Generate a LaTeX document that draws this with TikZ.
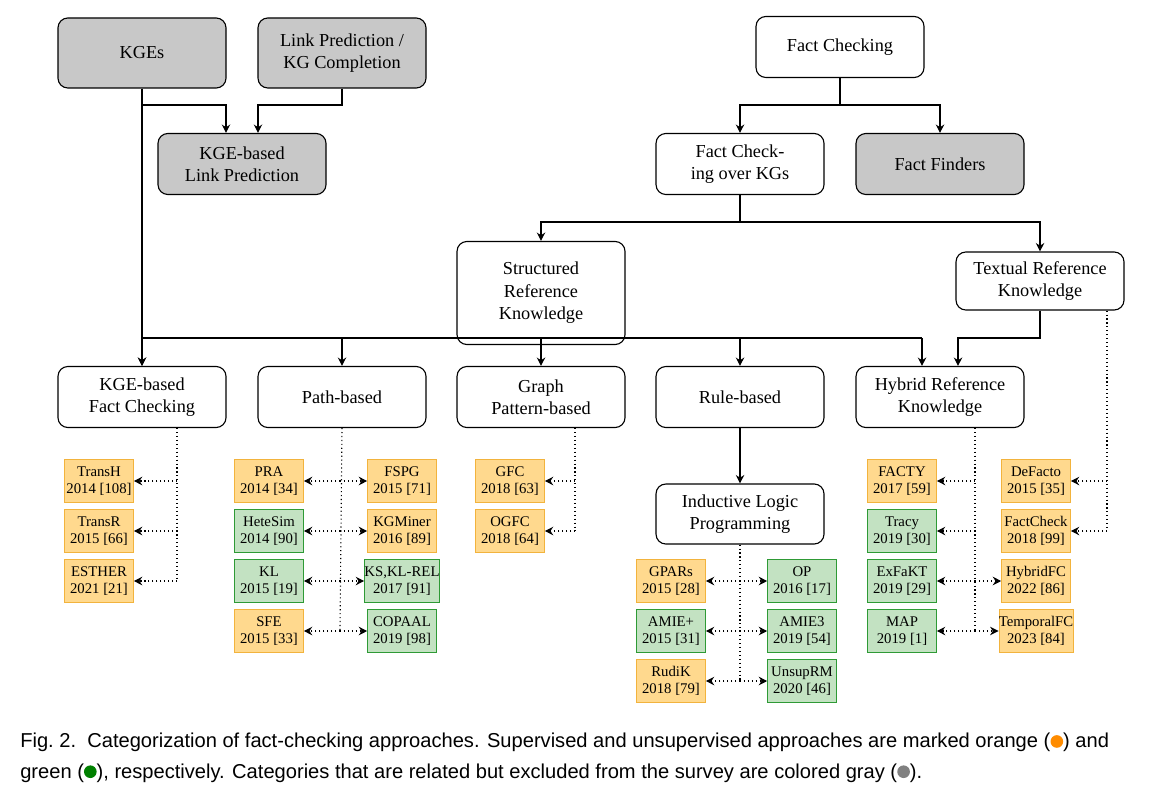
\documentclass[tikz,border=0pt]{standalone}
\usepackage{fontspec}
\setmainfont{Liberation Serif}
\newfontfamily\capfont{Liberation Sans}
\usetikzlibrary{positioning,calc,arrows.meta}
\definecolor{supfill}{HTML}{FFD98E}
\definecolor{supline}{HTML}{F2B33D}
\definecolor{unsfill}{HTML}{C3E2C2}
\definecolor{unsline}{HTML}{2E9A35}
\definecolor{grayfill}{HTML}{C8C8C8}
\tikzset{
  cat/.style={draw,rounded corners=7pt,thick,minimum width=168*0.025cm,minimum height=61*0.025cm,
    align=center,font=\fontsize{13}{16}\selectfont,inner sep=2pt},
  excl/.style={cat,fill=grayfill},
  sup/.style={draw=supline,fill=supfill,minimum width=69*0.025cm,minimum height=43*0.025cm,
    align=center,font=\fontsize{10.5}{12.5}\selectfont,inner sep=0pt},
  uns/.style={sup,draw=unsline,fill=unsfill},
  arr/.style={thick,-{Stealth[length=6pt,width=6pt]}},
  dotarr/.style={thick,dotted,-{Stealth[length=6pt,width=6pt]}},
  spine/.style={thick,dotted}
}
\begin{document}
\begin{tikzpicture}[x=0.025cm,y=-0.025cm]
\useasboundingbox (0,0) rectangle (1174,800);
% top row
\node[excl] (kges) at (142,53) [minimum height=70*0.025cm] {KGEs};
\node[excl] (lp) at (342,53) [minimum height=70*0.025cm] {Link Prediction /\\KG Completion};
\node[excl] (kgelp) at (242,164) {KGE-based\\Link Prediction};
\node[cat] (fc) at (840,47) {Fact Checking};
\node[cat] (fckg) at (740,164) {Fact Check-\\ing over KGs};
\node[excl] (ff) at (940,164) {Fact Finders};
\node[cat] (srk) at (541,293) [minimum height=103*0.025cm] {Structured\\Reference\\Knowledge};
\node[cat] (trk) at (1040,281) [minimum height=58*0.025cm] {Textual Reference\\Knowledge};
% categories
\node[cat] (kgefc) at (142,397) {KGE-based\\Fact Checking};
\node[cat] (path) at (342,397) {Path-based};
\node[cat] (graph) at (541,397) {Graph\\Pattern-based};
\node[cat] (rule) at (740,397) {Rule-based};
\node[cat] (hybrid) at (940,397) {Hybrid Reference\\Knowledge};
\node[cat] (ilp) at (740,514) [minimum height=60*0.025cm] {Inductive Logic\\Programming};
% tree
\draw[arr] (kges.south) |- (226,105) -- ($(kgelp.north)+(-16,0)$);
\draw[arr] (lp.south) |- (258,105) -- ($(kgelp.north)+(16,0)$);
\draw[arr] (kges.south) -- (kgefc.north);
\draw[arr] (fc.south) |- (740,105) -- (fckg.north);
\draw[arr] (fc.south) |- (940,105) -- (ff.north);
\draw[arr] (fckg.south) |- (541,222) -- (srk.north);
\draw[arr] (fckg.south) |- (1040,222) -- (trk.north);
\draw[thick] (142,338) -- (922,338);
\draw[thick] (srk.south) -- (541,338);
\foreach \n in {kgefc,path,graph,rule}
  \draw[arr] (\n.north |- 0,338) -- (\n.north);
\draw[arr] (922,338) -- ($(hybrid.north)+(-18,0)$);
\draw[arr] (trk.south) |- (958,338) -- ($(hybrid.north)+(18,0)$);
\draw[arr] (rule.south) -- (ilp.north);
% approaches
\node[sup] (transh) at (99,481) {TransH\\2014 [108]};
\node[sup] (transr) at (99,531) {TransR\\2015 [66]};
\node[sup] (esther) at (99,581) {ESTHER\\2021 [21]};
\node[sup] (pra) at (269,481) {PRA\\2014 [34]};
\node[uns] (hetesim) at (269,531) {HeteSim\\2014 [90]};
\node[uns] (kl) at (269,581) {KL\\2015 [19]};
\node[sup] (sfe) at (269,631) {SFE\\2015 [33]};
\node[sup] (fspg) at (402,481) {FSPG\\2015 [71]};
\node[sup] (kgminer) at (402,531) {KGMiner\\2016 [89]};
\node[uns] (ksklrel) at (402,581) {KS,KL-REL\\2017 [91]};
\node[uns] (copaal) at (402,631) {COPAAL\\2019 [98]};
\node[sup] (gfc) at (510,481) {GFC\\2018 [63]};
\node[sup] (ogfc) at (510,531) {OGFC\\2018 [64]};
\node[sup] (gpars) at (671,581) {GPARs\\2015 [28]};
\node[uns] (amieplus) at (671,631) {AMIE+\\2015 [31]};
\node[sup] (rudik) at (671,681) {RudiK\\2018 [79]};
\node[uns] (op) at (802,581) {OP\\2016 [17]};
\node[uns] (amie3) at (802,631) {AMIE3\\2019 [54]};
\node[uns] (unsuprm) at (802,681) {UnsupRM\\2020 [46]};
\node[sup] (facty) at (902,481) {FACTY\\2017 [59]};
\node[uns] (tracy) at (902,531) {Tracy\\2019 [30]};
\node[uns] (exfakt) at (902,581) {ExFaKT\\2019 [29]};
\node[uns] (map) at (902,631) {MAP\\2019 [1]};
\node[sup] (defacto) at (1036,481) {DeFacto\\2015 [35]};
\node[sup] (factcheck) at (1036,531) {FactCheck\\2018 [99]};
\node[sup] (hybridfc) at (1036,581) {HybridFC\\2022 [86]};
\node[sup] (temporalfc) at (1036,631) {TemporalFC\\2023 [84]};
% dotted spines
\draw[spine] (kgefc.south -| 177,0) -- (177,581);
\foreach \n in {transh,transr,esther} \draw[dotarr] (177,0 |- \n.east) -- (\n.east);
\draw[spine] (path.south) -- (340,631);
\foreach \n in {pra,hetesim,kl,sfe} \draw[dotarr] (340,0 |- \n.east) -- (\n.east);
\foreach \n in {fspg,kgminer,ksklrel,copaal} \draw[dotarr] (340,0 |- \n.west) -- (\n.west);
\draw[spine] (graph.south -| 575,0) -- (575,531);
\foreach \n in {gfc,ogfc} \draw[dotarr] (575,0 |- \n.east) -- (\n.east);
\draw[spine] (ilp.south) -- (740,681);
\foreach \n in {gpars,amieplus,rudik} \draw[dotarr] (740,0 |- \n.east) -- (\n.east);
\foreach \n in {op,amie3,unsuprm} \draw[dotarr] (740,0 |- \n.west) -- (\n.west);
\draw[spine] (hybrid.south -| 975,0) -- (975,631);
\foreach \n in {facty,tracy,exfakt,map} \draw[dotarr] (975,0 |- \n.east) -- (\n.east);
\foreach \n in {hybridfc,temporalfc} \draw[dotarr] (975,0 |- \n.west) -- (\n.west);
\draw[spine] (trk.south -| 1107,0) -- (1107,531);
\foreach \n in {defacto,factcheck} \draw[dotarr] (1107,0 |- \n.east) -- (\n.east);
% caption
\node[anchor=north west,align=left,inner sep=0pt,font=\capfont\fontsize{14.3}{21.5}\selectfont] (caption) at (20,733)
 {Fig.~2.\ \ Categorization of fact-checking approaches. Supervised and unsupervised approaches are marked orange (\tikz[baseline=-0.6ex]\fill[orange!90!yellow] circle (4.5pt);) and\\
  green (\tikz[baseline=-0.6ex]\fill[green!50!black] circle (4.5pt);), respectively. Categories that are related but excluded from the survey are colored gray (\tikz[baseline=-0.6ex]\fill[gray] circle (4.5pt);).};
\end{tikzpicture}
\end{document}
